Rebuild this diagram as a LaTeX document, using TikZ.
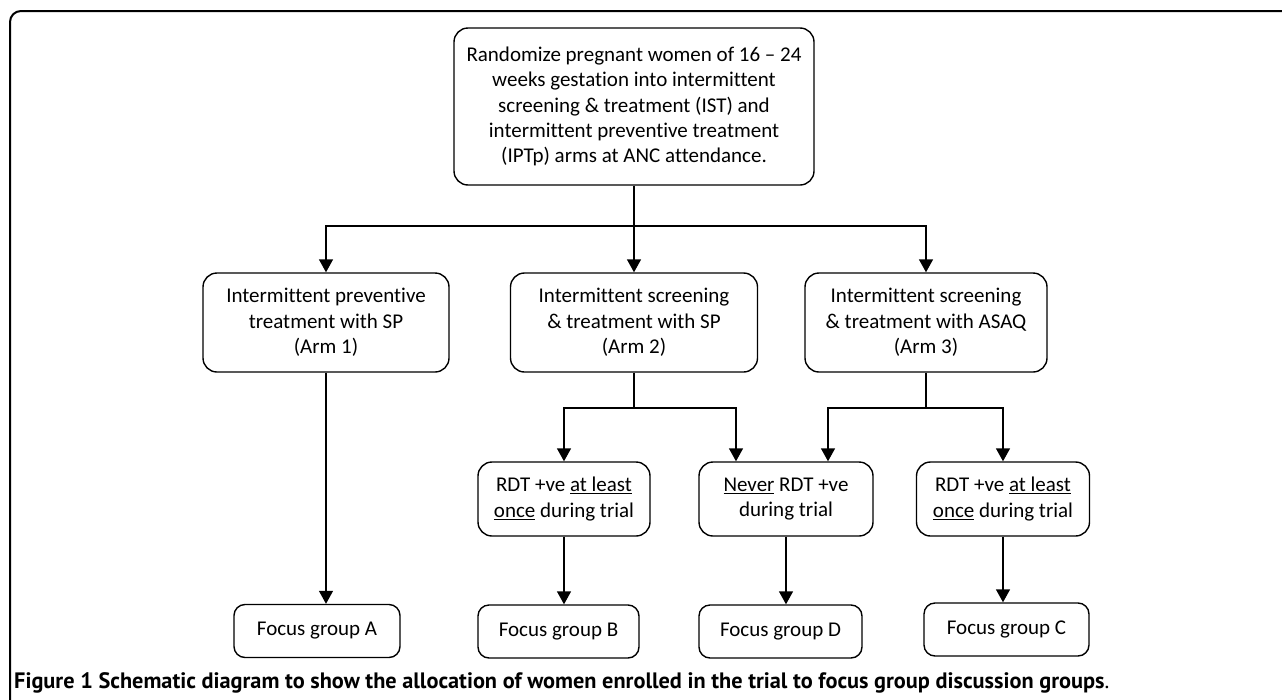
\documentclass[tikz,border=0pt]{standalone}
\usepackage{fontspec}
\setmainfont{Carlito}[Ligatures = NoCommon]
\newfontfamily\capfont{PT Sans}
\usepackage{tikz}
\usetikzlibrary{arrows.meta}
\usetikzlibrary{positioning}
\tikzset{box/.style = {draw, line width = 1.4, rounded corners = 14, align = center, inner sep = 0,
    font = \fontsize{21}{25.4}\selectfont}}
\tikzset{fgbox/.style = {box, rounded corners = 11, minimum height = 53}}
\tikzset{arr/.style = {line width = 1.4, -{Triangle[length = 13, width = 14]}}}

\begin{document}
\begin{tikzpicture}[x = 1pt, y = -1pt]
    \useasboundingbox (0, 0) rectangle (1282, 699);
    \draw [line width = 2, rounded corners = 11] (10, 710) -- (10, 11) -- (1290, 11);

    \node [box, minimum width = 360, minimum height = 157] (rand) at (634, 106.5)
        {Randomize pregnant women of 16 -- 24\\weeks gestation into intermittent\\
         screening \& treatment (IST) and\\intermittent preventive treatment\\
         (IPTp) arms at ANC attendance.};

    \node [box, minimum width = 246, minimum height = 99] (arm1) at (326, 322.5)
        {Intermittent preventive\\treatment with SP\\(Arm 1)};
    \node [box, minimum width = 247, minimum height = 99] (arm2) at (634, 322.5)
        {Intermittent screening\\\& treatment with SP\\(Arm 2)};
    \node [box, minimum width = 242, minimum height = 99] (arm3) at (926, 322.5)
        {Intermittent screening\\\& treatment with ASAQ\\(Arm 3)};

    \node [box, minimum width = 172, minimum height = 74] (rdt1) at (564, 499)
        {RDT +ve \underline{at least}\\\underline{once} during trial};
    \node [box, minimum width = 174, minimum height = 74] (never) at (786, 499)
        {\underline{Never} RDT +ve\\during trial};
    \node [box, minimum width = 173, minimum height = 74] (rdt3) at (1003, 499)
        {RDT +ve \underline{at least}\\\underline{once} during trial};

    \node [fgbox, minimum width = 166] (fgA) at (317, 631) {Focus group A};
    \node [fgbox, minimum width = 161] (fgB) at (558.5, 631.5) {Focus group B};
    \node [fgbox, minimum width = 163] (fgD) at (780.5, 631.5) {Focus group D};
    \node [fgbox, minimum width = 165] (fgC) at (1006.5, 629.5) {Focus group C};

    % split into the three arms
    \coordinate (bus1) at (634, 226);
    \draw [line width = 1.4] (rand) -- (bus1);
    \draw [arr] (bus1) -| (arm1);
    \draw [arr] (bus1) -- (arm2);
    \draw [arr] (bus1) -| (arm3);

    % RDT outcome in the screening arms
    \coordinate (bus2) at (634, 408);
    \coordinate (bus3) at (926, 408);
    \draw [line width = 1.4] (arm2) -- (bus2);
    \draw [arr] (bus2) -| (rdt1);
    \draw [arr] (bus2) -| ([xshift = -50] never.north);
    \draw [line width = 1.4] (arm3) -- (bus3);
    \draw [arr] (bus3) -| ([xshift = 42] never.north);
    \draw [arr] (bus3) -| (rdt3);

    % down to the focus groups
    \draw [arr] (arm1) -- (arm1 |- fgA.north);
    \draw [arr] (rdt1) -- (rdt1 |- fgB.north);
    \draw [arr] (never) -- (never |- fgD.north);
    \draw [arr] (rdt3) -- (rdt3 |- fgC.north);

    \node [anchor = west, inner sep = 0, font = \capfont\fontsize{22.3}{26}\selectfont] (cap) at (14, 683)
        {\bfseries Figure 1 Schematic diagram to show the allocation of women enrolled in the trial to focus group discussion groups\mdseries.};
\end{tikzpicture}
\end{document}
